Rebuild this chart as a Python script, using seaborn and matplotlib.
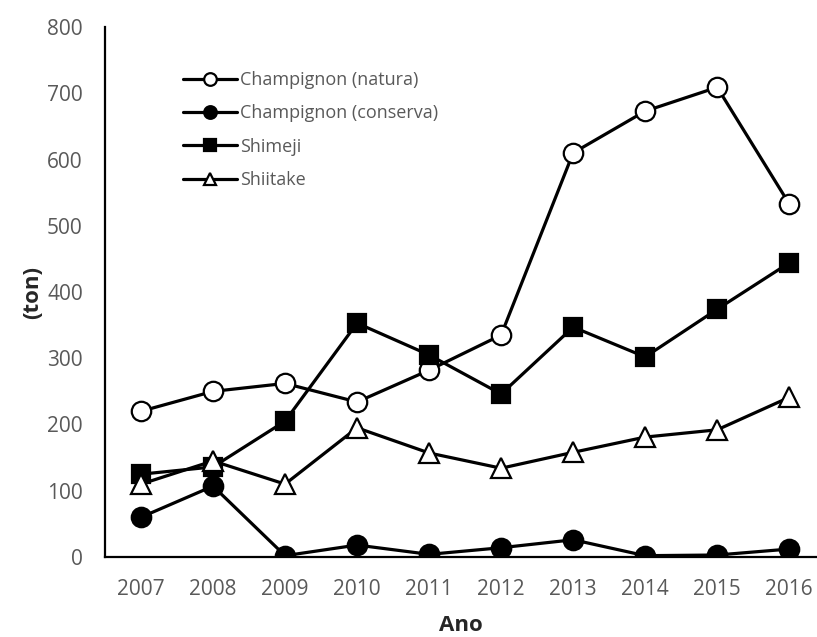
import matplotlib
matplotlib.use("Agg")
import matplotlib.pyplot as plt
import seaborn as sns
import pandas as pd

anos = [2007, 2008, 2009, 2010, 2011, 2012, 2013, 2014, 2015, 2016]
champ_natura = [220, 250, 262, 234, 282, 335, 610, 673, 709, 533]
champ_conserva = [60, 107, 2, 18, 4, 14, 26, 2, 3, 12]
shimeji = [125, 136, 205, 353, 305, 246, 347, 302, 374, 444]
shiitake = [110, 145, 110, 195, 157, 134, 158, 181, 192, 241]

series = {
    "Champignon (natura)": (champ_natura, "o", "white"),
    "Champignon (conserva)": (champ_conserva, "o", "black"),
    "Shimeji": (shimeji, "s", "black"),
    "Shiitake": (shiitake, "^", "white"),
}

sns.set_style("white")
plt.rcParams["font.family"] = ["Open Sans", "DejaVu Sans"]

fig = plt.figure(figsize=(8.17, 6.37), dpi=100)
ax = fig.add_axes([0.1285, 0.1256, 0.871, 0.832])

for nome, (vals, mk, face) in series.items():
    df = pd.DataFrame({"ano": anos, "ton": vals})
    sns.lineplot(data=df, x="ano", y="ton", ax=ax, color="black",
                 linewidth=2.3, marker=mk, markersize=14 if mk != "s" else 13,
                 markerfacecolor=face, markeredgecolor="black",
                 markeredgewidth=1.6, label=nome)

ax.set_xlim(2006.5, 2016.38)
ax.set_ylim(0, 800)
ax.set_xticks(anos)
ax.set_yticks(range(0, 801, 100))
ax.tick_params(axis="both", length=0, labelsize=15, labelcolor="#595959")
ax.tick_params(axis="x", pad=16)
ax.tick_params(axis="y", pad=16)

for s in ["top", "right"]:
    ax.spines[s].set_visible(False)
for s in ["left", "bottom"]:
    ax.spines[s].set_color("black")
    ax.spines[s].set_linewidth(1.6)

ax.set_xlabel("Ano", fontsize=16, fontweight="bold", labelpad=11)
ax.set_ylabel("(ton)", fontsize=16, fontweight="bold", labelpad=3)

leg = ax.legend(loc="upper left", bbox_to_anchor=(0.215, 0.9),
                bbox_transform=fig.transFigure, frameon=False,
                fontsize=13, handlelength=3.0, handletextpad=0.15,
                labelspacing=0.85, borderaxespad=0, markerscale=0.65)
for t in leg.get_texts():
    t.set_color("#595959")

fig.savefig("out.png", dpi=100)
